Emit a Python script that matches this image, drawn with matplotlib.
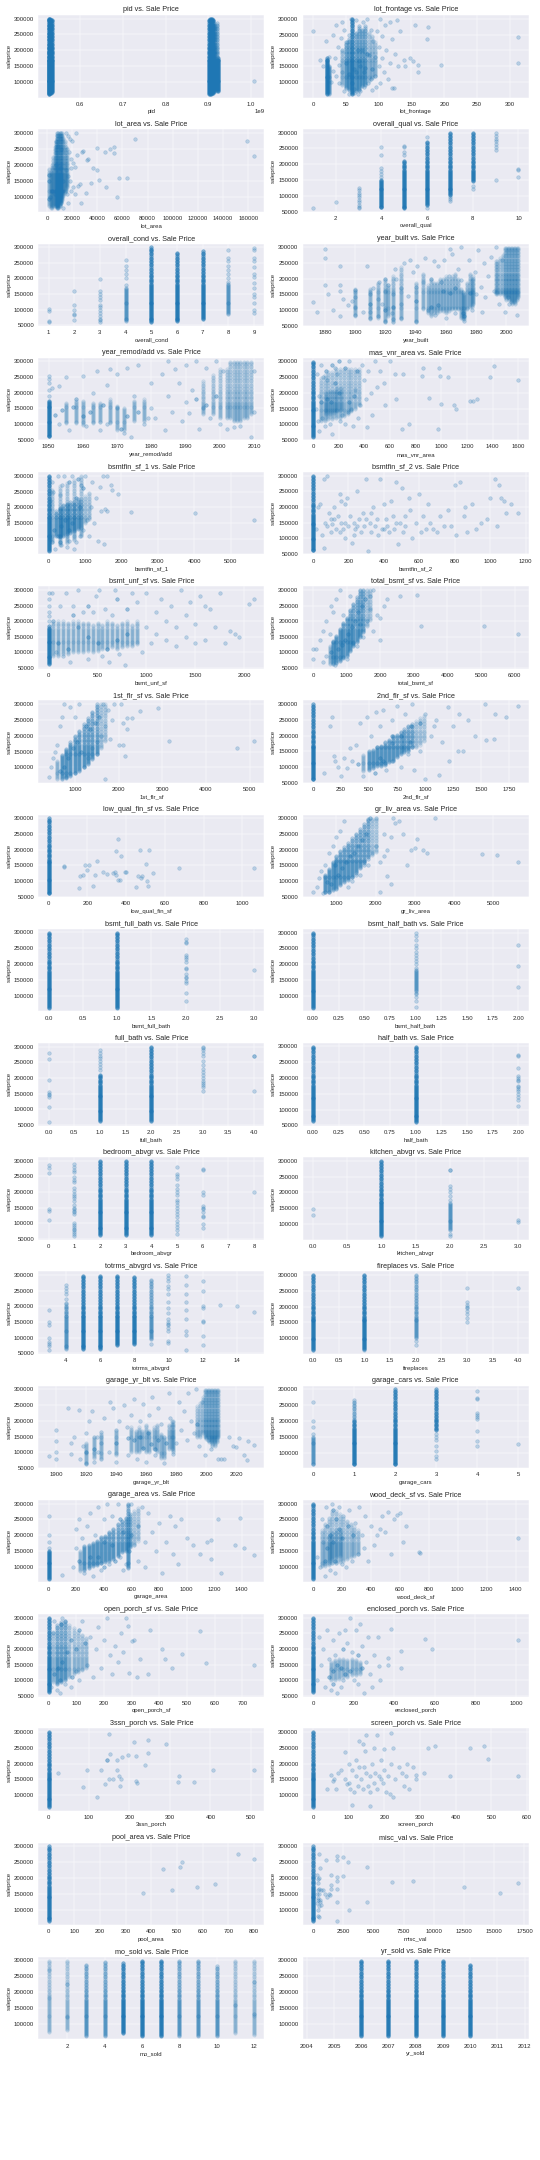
import matplotlib
matplotlib.use("Agg")
import matplotlib.pyplot as plt
import seaborn as sns

sns.set_style("darkgrid")
plt.rcParams['font.family'] = ['Liberation Sans', 'DejaVu Sans']

# ---------------- data (sale prices in thousands of dollars) ----------------
columns = ["pid", "lot_frontage", "lot_area", "overall_qual", "overall_cond", "year_built",
           "year_remod/add", "mas_vnr_area", "bsmtfin_sf_1", "bsmtfin_sf_2", "bsmt_unf_sf",
           "total_bsmt_sf", "1st_flr_sf", "2nd_flr_sf", "low_qual_fin_sf", "gr_liv_area",
           "bsmt_full_bath", "bsmt_half_bath", "full_bath", "half_bath", "bedroom_abvgr",
           "kitchen_abvgr", "totrms_abvgrd", "fireplaces", "garage_yr_blt", "garage_cars",
           "garage_area", "wood_deck_sf", "open_porch_sf", "enclosed_porch", "3ssn_porch",
           "screen_porch", "pool_area", "misc_val", "mo_sold", "yr_sold"]

# sale prices seen stacked along the dense vertical columns / dense cloud strips
column_prices = [61, 63, 66, 69, 72, 75, 78, 81, 84, 87, 90, 93, 96, 99, 102, 105, 108, 111,
                 114, 117, 120, 123, 126, 129, 132, 135, 138, 141, 144, 147, 150, 153, 156,
                 159, 162, 165, 168, 171, 175, 179, 183, 187, 191, 195, 199, 203, 207, 211,
                 216, 221, 226, 231, 236, 241, 246, 251, 256, 261, 266, 271, 276, 281, 286,
                 291, 295, 299]

# dense strips: (x, lowest price, highest price, density 1..3)
pid_cols = [(526.5e6, 62, 300, 3), (528e6, 62, 300, 3), (530e6, 64, 300, 3), (532e6, 66, 298, 3),
            (534.5e6, 68, 296, 3), (902e6, 62, 298, 3), (904.5e6, 62, 300, 3), (907e6, 62, 300, 3),
            (909e6, 64, 300, 3), (911e6, 66, 296, 3), (914e6, 70, 290, 2), (916e6, 72, 280, 2),
            (920e6, 72, 290, 2), (923e6, 72, 175, 3)]
pid_pts = [(1007e6, 103)]

lot_frontage_cols = [(21, 62, 175, 3), (24, 62, 150, 2), (45, 90, 200, 1), (50, 80, 230, 2),
                     (55, 75, 240, 2), (60, 62, 300, 3), (65, 70, 260, 2), (70, 75, 280, 2),
                     (75, 85, 270, 2), (80, 90, 280, 2), (85, 100, 260, 1), (90, 110, 250, 1),
                     (95, 120, 230, 1)]
lot_frontage_core = [(60, 95), (65, 130), (70, 165), (75, 200), (80, 145), (85, 185), (90, 140),
                     (55, 125), (50, 160), (62, 140), (68, 200), (72, 150), (77, 130), (82, 190)]
lot_frontage_pts = [(0, 262), (10, 170), (15, 150), (20, 230), (25, 180), (28, 100), (30, 135),
                    (30, 250), (33, 175), (35, 120), (35, 280), (38, 210), (40, 95), (40, 155),
                    (42, 240), (44, 290), (45, 130), (45, 200), (48, 70), (48, 265), (52, 225),
                    (55, 62), (55, 250), (58, 300), (62, 65), (63, 78), (66, 295), (68, 62),
                    (72, 72), (76, 290), (78, 85), (82, 300), (84, 95), (88, 110), (88, 265),
                    (92, 230), (95, 120), (95, 180), (98, 260), (100, 150), (100, 210), (102, 95),
                    (105, 175), (105, 245), (108, 130), (110, 280), (112, 200), (115, 110),
                    (118, 160), (120, 80), (120, 235), (123, 80), (125, 190), (128, 295),
                    (130, 150), (133, 260), (138, 170), (140, 150), (148, 175), (152, 165),
                    (155, 280), (160, 155), (160, 130), (174, 235), (175, 275), (195, 155),
                    (313, 160), (313, 243), (102, 300), (118, 290), (90, 75), (96, 85)]

lot_area_cols = [(2000, 70, 190, 1), (3000, 65, 180, 1), (4000, 65, 200, 1), (5000, 70, 230, 1),
                 (6000, 70, 260, 1), (7000, 70, 280, 2), (8000, 65, 300, 2), (9000, 65, 300, 2),
                 (10000, 70, 300, 2), (11000, 80, 300, 2), (12000, 90, 300, 1), (13000, 100, 290, 1),
                 (14000, 110, 280, 1), (15000, 120, 260, 1), (16000, 130, 240, 1)]
lot_area_core = [(2500, 100), (4000, 120), (6000, 110), (7000, 200), (8500, 120), (9000, 260),
                 (10000, 190), (11500, 250), (13000, 150), (1500, 170), (1300, 150), (1500, 95)]
lot_area_pts = [(15500, 185), (16000, 110), (16500, 290), (17000, 80), (17500, 240),
                (18000, 280), (18500, 150), (19000, 190), (19500, 220), (20000, 275),
                (21000, 130), (22000, 110), (22500, 195), (23000, 300), (24000, 230),
                (25000, 135), (26000, 140), (27000, 80), (28000, 240), (29000, 245),
                (31000, 113), (32000, 215), (33000, 220), (35000, 143), (37000, 192),
                (39500, 183), (40000, 252), (41000, 153), (46000, 240), (47000, 130),
                (50000, 250), (53000, 255), (53500, 238), (56000, 101), (57000, 158),
                (64000, 158), (70000, 280), (159000, 275), (164700, 228), (17000, 165),
                (19000, 120), (16000, 250), (21000, 205), (12500, 65), (15000, 300)]

overall_qual_cols = [(4, 62, 150, 3), (5, 60, 215, 3), (6, 72, 275, 3), (7, 100, 300, 3),
                     (8, 145, 300, 3)]
overall_qual_pts = [(1, 61), (2, 81), (3, 62), (3, 65), (3, 70), (3, 80), (3, 88), (3, 95),
                    (3, 103), (3, 110), (3, 118), (3, 124), (4, 160), (4, 170), (4, 180),
                    (4, 188), (4, 228), (4, 255), (5, 230), (5, 240), (5, 255), (5, 258),
                    (6, 62), (6, 285), (7, 82), (7, 90), (7, 95), (8, 120), (8, 130), (9, 150),
                    (9, 245), (9, 255), (9, 265), (9, 275), (9, 280), (9, 290), (9, 298),
                    (10, 160), (10, 183), (10, 185)]

overall_cond_cols = [(4, 62, 170, 2), (5, 60, 300, 3), (6, 62, 285, 3), (7, 72, 290, 3),
                     (8, 85, 190, 2)]
overall_cond_pts = [(1, 62), (1, 65), (1, 95), (1, 103), (2, 67), (2, 82), (2, 87), (2, 100),
                    (2, 115), (2, 160), (3, 60), (3, 66), (3, 72), (3, 80), (3, 90), (3, 100),
                    (3, 108), (3, 115), (3, 130), (3, 140), (3, 150), (3, 160), (3, 197),
                    (4, 180), (4, 200), (4, 215), (4, 225), (4, 238), (4, 260), (8, 200),
                    (8, 215), (8, 225), (8, 240), (8, 255), (8, 265), (8, 290), (9, 90), (9, 100),
                    (9, 120), (9, 140), (9, 150), (9, 170), (9, 185), (9, 205), (9, 215),
                    (9, 235), (9, 255), (9, 265), (9, 290), (9, 298)]

year_built_cols = [(1900, 80, 170, 1), (1910, 70, 170, 1), (1915, 75, 190, 1), (1920, 60, 200, 1),
                   (1922, 80, 180, 1), (1925, 60, 210, 1), (1930, 70, 240, 1), (1940, 60, 190, 1),
                   (1945, 100, 220, 1), (1948, 90, 180, 1), (1950, 80, 200, 1), (1952, 90, 190, 1),
                   (1954, 90, 190, 1), (1956, 95, 200, 1), (1958, 95, 200, 1), (1960, 90, 210, 1),
                   (1962, 95, 200, 1), (1964, 100, 210, 1), (1966, 100, 220, 1), (1968, 100, 200, 1),
                   (1970, 75, 170, 1), (1971, 70, 160, 1), (1972, 70, 150, 1), (1974, 100, 190, 1),
                   (1976, 110, 220, 1), (1977, 110, 200, 1), (1978, 120, 210, 1), (1993, 150, 260, 1),
                   (1994, 150, 260, 1), (1996, 150, 270, 1), (1998, 150, 280, 1), (1999, 140, 300, 1),
                   (2000, 130, 300, 1), (2001, 140, 300, 1), (2002, 130, 300, 1), (2003, 125, 300, 1),
                   (2004, 120, 300, 1), (2005, 125, 300, 1), (2006, 120, 300, 1), (2007, 130, 300, 1),
                   (2008, 140, 300, 1)]
year_built_core = [(1950, 110), (1955, 115), (1958, 160), (1963, 155), (1966, 170), (1971, 90),
                   (1972, 80), (1976, 155), (1920, 100), (1925, 110), (1910, 120), (1940, 130)]
year_built_pts = [(1872, 125), (1875, 95), (1880, 180), (1880, 265), (1880, 293), (1882, 150),
                  (1885, 100), (1890, 240), (1890, 180), (1890, 160), (1890, 80), (1892, 135),
                  (1895, 115), (1898, 130), (1900, 85), (1900, 110), (1900, 140), (1900, 165),
                  (1905, 95), (1908, 240), (1910, 75), (1910, 95), (1910, 150), (1912, 170),
                  (1915, 80), (1915, 135), (1916, 190), (1918, 120), (1920, 65), (1920, 160),
                  (1920, 200), (1922, 180), (1924, 90), (1925, 70), (1925, 150), (1926, 230),
                  (1927, 200), (1930, 75), (1930, 120), (1930, 170), (1932, 250), (1935, 145),
                  (1936, 260), (1938, 220), (1940, 65), (1940, 175), (1941, 240), (1945, 190),
                  (1946, 265), (1948, 100), (1950, 200), (1952, 255), (1953, 85), (1955, 240),
                  (1957, 190), (1959, 260), (1960, 75), (1962, 210), (1964, 280), (1966, 90),
                  (1968, 230), (1970, 195), (1972, 65), (1975, 260), (1977, 100), (1979, 220),
                  (1980, 150), (1981, 290), (1983, 175), (1985, 250), (1986, 140), (1988, 210),
                  (1990, 270), (1992, 160), (1993, 300), (1995, 120), (1997, 260), (1999, 95),
                  (2001, 140), (2002, 120), (2007, 83), (1984, 93), (1970, 300), (1963, 295)]

year_remod_cols = [(1950, 60, 175, 3), (1955, 100, 170, 1), (1958, 100, 180, 1), (1960, 95, 175, 1),
                   (1963, 100, 170, 1), (1965, 105, 170, 1), (1968, 100, 180, 1), (1970, 80, 160, 1),
                   (1972, 80, 150, 1), (1975, 110, 175, 1), (1978, 110, 180, 1), (1995, 130, 240, 1),
                   (1998, 130, 260, 1), (2000, 120, 280, 1), (2002, 120, 280, 1), (2003, 120, 300, 1),
                   (2004, 110, 300, 1), (2005, 110, 300, 1), (2006, 110, 300, 1), (2007, 120, 300, 1),
                   (2008, 120, 300, 1), (2009, 130, 300, 1)]
year_remod_core = [(1952, 130), (1954, 145), (1957, 155), (1960, 125), (1962, 140), (1966, 160),
                   (1971, 85), (1973, 125), (1976, 140), (1993, 180), (1996, 160), (1999, 190)]
year_remod_pts = [(1950, 190), (1950, 210), (1950, 230), (1950, 245), (1950, 255), (1951, 215),
                  (1953, 100), (1953, 222), (1955, 250), (1956, 80), (1958, 180), (1960, 255),
                  (1961, 95), (1963, 200), (1964, 270), (1965, 80), (1967, 100), (1968, 275),
                  (1970, 150), (1970, 260), (1972, 70), (1973, 280), (1975, 190), (1976, 290),
                  (1978, 100), (1980, 150), (1980, 230), (1981, 120), (1983, 260), (1984, 80),
                  (1985, 190), (1986, 140), (1987, 275), (1988, 230), (1989, 110), (1990, 170),
                  (1990, 290), (1991, 135), (1992, 210), (1993, 300), (1994, 85), (1995, 150),
                  (1996, 280), (1997, 120), (1999, 300), (2000, 100), (2001, 270), (2002, 85),
                  (2004, 90), (2006, 95), (2009, 60), (2010, 140), (2010, 270), (1979, 120),
                  (1974, 60), (1967, 225), (1985, 300)]

mas_vnr_cols = [(0, 60, 300, 3), (60, 110, 250, 1), (90, 110, 260, 1), (120, 115, 270, 1),
                (150, 115, 270, 1), (180, 120, 280, 1), (210, 120, 280, 1), (240, 125, 280, 1),
                (270, 130, 280, 1), (300, 140, 280, 1), (330, 150, 280, 1), (360, 160, 280, 1),
                (100, 130, 200, 1), (130, 130, 210, 1), (160, 135, 210, 1), (190, 140, 220, 1),
                (220, 145, 220, 1)]
mas_vnr_core = [(60, 170), (110, 180), (140, 170), (170, 230), (200, 200), (250, 280),
                (280, 170), (320, 190), (340, 270), (100, 270), (150, 290), (200, 300)]
mas_vnr_pts = [(20, 150), (30, 260), (40, 110), (45, 190), (50, 80), (60, 290), (70, 120),
               (75, 250), (90, 95), (110, 240), (130, 100), (150, 70), (170, 280), (190, 260),
               (210, 110), (230, 130), (250, 100), (270, 140), (280, 300), (300, 150),
               (310, 95), (330, 210), (350, 120), (370, 160), (380, 290), (400, 240),
               (410, 180), (420, 90), (430, 270), (450, 200), (460, 130), (480, 300),
               (500, 220), (520, 270), (550, 230), (560, 160), (600, 300), (640, 260),
               (650, 180), (690, 85), (700, 260), (750, 100), (850, 255), (860, 280),
               (900, 185), (970, 85), (980, 280), (990, 255), (1000, 165), (1050, 250),
               (1100, 160), (1110, 150), (1220, 175), (1250, 175), (1280, 180), (1380, 250),
               (1410, 285), (1600, 240)]

bsmtfin1_cols = [(0, 62, 300, 3), (200, 110, 190, 2), (300, 105, 200, 2), (400, 110, 210, 2),
                 (500, 115, 215, 2), (600, 120, 220, 2), (700, 125, 220, 2), (800, 130, 230, 2),
                 (900, 135, 230, 1), (1000, 150, 240, 1), (1100, 160, 250, 1), (100, 90, 260, 1),
                 (300, 80, 270, 1), (500, 85, 280, 1), (700, 95, 290, 1), (900, 110, 300, 1)]
bsmtfin1_core = [(150, 130), (250, 110), (350, 140), (450, 160), (550, 130), (650, 150),
                 (750, 230), (850, 200), (950, 260), (300, 90), (550, 280), (800, 290)]
bsmtfin1_pts = [(30, 100), (50, 220), (80, 280), (100, 90), (120, 250), (180, 70), (250, 300),
                (300, 240), (350, 80), (380, 270), (420, 300), (500, 75), (550, 95), (650, 300),
                (700, 70), (750, 90), (850, 110), (900, 270), (950, 130), (1000, 300),
                (1050, 160), (1100, 110), (1150, 200), (1200, 280), (1250, 150), (1300, 230),
                (1350, 95), (1400, 265), (1450, 190), (1500, 300), (1530, 85), (1560, 195),
                (1600, 300), (1600, 190), (1700, 270), (1750, 255), (1900, 243), (2260, 185),
                (4010, 183), (5640, 160)]

bsmtfin2_cols = [(0, 60, 300, 3)]
bsmtfin2_pts = [(20, 130), (30, 200), (40, 210), (50, 110), (60, 70), (60, 290), (70, 150),
                (80, 300), (80, 140), (90, 180), (100, 120), (100, 160), (110, 145), (120, 200),
                (130, 130), (140, 170), (150, 120), (150, 240), (160, 150), (170, 130),
                (180, 210), (180, 100), (190, 230), (200, 140), (210, 170), (220, 85),
                (230, 110), (240, 130), (250, 250), (260, 160), (270, 120), (280, 180),
                (290, 140), (300, 290), (310, 60), (320, 150), (330, 120), (340, 200),
                (350, 140), (360, 160), (370, 110), (380, 290), (390, 130), (400, 210),
                (410, 160), (420, 140), (430, 120), (440, 220), (450, 170), (460, 130),
                (470, 280), (480, 80), (490, 150), (500, 260), (510, 120), (520, 140),
                (540, 230), (550, 190), (560, 100), (580, 150), (600, 240), (610, 120),
                (620, 170), (640, 130), (650, 210), (660, 150), (680, 130), (700, 120),
                (720, 170), (740, 140), (760, 190), (780, 140), (800, 270), (810, 110),
                (830, 280), (850, 170), (860, 200), (870, 120), (900, 210), (920, 130),
                (950, 150), (980, 160), (1000, 230), (1030, 290), (1040, 140), (1050, 270),
                (1060, 230), (1080, 220), (1090, 180), (1120, 210), (1160, 180), (120, 160),
                (160, 220), (230, 150), (300, 160), (400, 130), (470, 150), (520, 170),
                (330, 180), (250, 140), (180, 150)]

bsmt_unf_cols = [(0, 62, 185, 3), (50, 90, 200, 1), (100, 90, 200, 1), (150, 95, 200, 1),
                 (200, 95, 195, 1), (250, 100, 200, 1), (300, 100, 200, 1), (350, 100, 195, 1),
                 (400, 105, 195, 1), (450, 100, 190, 1), (500, 105, 195, 1), (550, 110, 190, 1),
                 (600, 110, 200, 1), (650, 115, 195, 1), (700, 110, 190, 1), (750, 115, 195, 1),
                 (800, 120, 200, 1), (850, 120, 190, 1), (900, 125, 200, 1)]
bsmt_unf_core = [(100, 130), (200, 110), (300, 180), (400, 150), (500, 130), (600, 110),
                 (700, 140), (800, 160), (250, 220), (400, 250), (700, 270), (800, 240)]
bsmt_unf_pts = [(0, 200), (0, 215), (0, 230), (0, 250), (0, 270), (0, 290), (30, 290),
                (50, 200), (80, 100), (120, 250), (180, 290), (220, 70), (300, 300), (350, 230),
                (400, 80), (480, 280), (520, 300), (580, 240), (620, 70), (680, 300), (720, 95),
                (780, 60), (850, 290), (900, 260), (950, 100), (1000, 180), (1000, 290),
                (1050, 130), (1100, 230), (1100, 160), (1150, 270), (1200, 140), (1200, 200),
                (1250, 250), (1300, 180), (1300, 120), (1350, 300), (1400, 150), (1400, 220),
                (1450, 260), (1500, 130), (1500, 190), (1550, 280), (1600, 140), (1650, 240),
                (1700, 180), (1750, 290), (1800, 130), (1850, 170), (1900, 160), (1950, 150),
                (2050, 255), (2100, 270), (1600, 250), (150, 90), (550, 90), (450, 230),
                (650, 220), (250, 250)]

total_bsmt_cols = [(500, 62, 120, 1), (600, 62, 140, 2), (700, 65, 155, 2), (800, 70, 175, 2),
                   (900, 80, 195, 2), (1000, 90, 215, 2), (1100, 105, 240, 2), (1200, 120, 260, 2),
                   (1300, 135, 280, 2), (1400, 150, 300, 2), (1500, 165, 300, 2), (1600, 180, 300, 1),
                   (1700, 200, 300, 1)]
total_bsmt_core = [(550, 100), (750, 110), (850, 125), (950, 140), (1050, 160), (1150, 180),
                   (1250, 200), (1350, 230), (1450, 250), (1550, 270)]
total_bsmt_pts = [(0, 80), (0, 110), (100, 110), (200, 140), (300, 70), (300, 170), (400, 90),
                  (400, 200), (500, 160), (550, 250), (600, 230), (650, 60), (700, 270),
                  (800, 300), (900, 220), (1000, 80), (1100, 280), (1200, 130), (1300, 120),
                  (1400, 190), (1500, 150), (1600, 200), (1700, 240), (1700, 280), (1800, 300),
                  (1800, 170), (1900, 220), (2000, 140), (2000, 210), (2100, 250), (2200, 270),
                  (2600, 280), (3100, 283), (3200, 185), (5100, 183), (6110, 160)]

first_flr_cols = [(600, 62, 120, 1), (700, 62, 140, 2), (800, 65, 160, 2), (900, 70, 180, 2),
                  (1000, 80, 200, 2), (1100, 90, 220, 2), (1200, 100, 240, 2), (1300, 110, 260, 2),
                  (1400, 125, 280, 2), (1500, 140, 300, 2), (1600, 160, 300, 1), (1700, 180, 300, 1)]
first_flr_core = [(650, 90), (750, 100), (850, 130), (950, 160), (1050, 180), (1150, 150),
                  (1250, 230), (1350, 220), (1450, 240), (1550, 260)]
first_flr_pts = [(400, 70), (450, 100), (500, 130), (550, 150), (600, 170), (650, 230),
                 (700, 260), (750, 300), (800, 70), (900, 290), (1000, 260), (1100, 300),
                 (1200, 100), (1300, 130), (1400, 160), (1500, 180), (1600, 200), (1650, 300),
                 (1700, 65), (1700, 230), (1750, 280), (1800, 190), (1850, 250), (1900, 300),
                 (2000, 170), (2050, 300), (2100, 240), (2100, 170), (2150, 135), (2200, 220),
                 (2200, 255), (2300, 255), (2500, 278), (2900, 287), (3150, 185), (4700, 160),
                 (5100, 183)]

second_flr_cols = [(0, 60, 300, 3), (450, 85, 140, 1), (500, 90, 150, 2), (535, 95, 155, 2),
                   (570, 100, 165, 2), (605, 100, 170, 2), (640, 105, 180, 2), (675, 115, 190, 2),
                   (710, 120, 200, 2), (745, 130, 205, 2), (780, 140, 215, 2), (815, 145, 225, 2),
                   (850, 150, 235, 2), (885, 160, 240, 2), (920, 165, 250, 1), (955, 170, 260, 1),
                   (990, 180, 265, 1)]
second_flr_core = [(400, 110), (550, 80), (620, 120), (700, 175), (780, 200), (870, 230),
                   (950, 240), (600, 130), (700, 200), (860, 180)]
second_flr_pts = [(100, 80), (150, 230), (170, 260), (190, 135), (200, 120), (220, 100),
                  (250, 70), (280, 130), (300, 95), (330, 160), (350, 120), (380, 170),
                  (420, 240), (450, 70), (480, 260), (520, 200), (560, 275), (600, 230),
                  (620, 280), (650, 90), (700, 120), (700, 250), (750, 295), (780, 100),
                  (820, 270), (850, 140), (880, 300), (900, 90), (950, 150), (1000, 62),
                  (1000, 270), (1050, 200), (1080, 230), (1100, 250), (1120, 75), (1150, 180),
                  (1200, 290), (1210, 120), (1250, 230), (1290, 150), (1300, 270), (1340, 150),
                  (1380, 250), (1440, 200), (1530, 300), (1540, 185), (1610, 188), (1620, 270),
                  (1720, 260), (1830, 293)]

low_qual_cols = [(0, 60, 300, 3)]
low_qual_pts = [(80, 145), (80, 148), (155, 78), (160, 115), (180, 120), (190, 150), (200, 135),
                (210, 150), (230, 83), (240, 120), (250, 165), (280, 130), (300, 122), (330, 125),
                (345, 130), (350, 195), (350, 120), (360, 102), (360, 235), (370, 103),
                (375, 180), (395, 130), (400, 130), (450, 80), (460, 115), (470, 200),
                (475, 110), (480, 115), (500, 155), (510, 100), (515, 83), (520, 200),
                (540, 125), (675, 140), (1060, 142)]

gr_liv_cols = [(700, 62, 120, 2), (800, 62, 140, 2), (900, 70, 160, 2), (1000, 75, 180, 2),
               (1100, 85, 195, 2), (1200, 95, 210, 2), (1300, 100, 225, 2), (1400, 110, 240, 2),
               (1500, 125, 255, 2), (1600, 140, 270, 2), (1700, 155, 285, 2), (1800, 170, 300, 2),
               (1900, 180, 300, 1), (2000, 190, 300, 1)]
gr_liv_core = [(750, 95), (850, 90), (950, 150), (1050, 120), (1150, 140), (1250, 160),
               (1350, 180), (1450, 190), (1550, 210), (1650, 230), (1750, 250), (1850, 300)]
gr_liv_pts = [(400, 65), (500, 80), (550, 110), (600, 130), (650, 60), (700, 150), (800, 190),
              (900, 210), (1000, 240), (1100, 260), (1200, 290), (1300, 80), (1400, 100),
              (1500, 120), (1600, 120), (1700, 150), (1800, 150), (1900, 190), (2000, 210),
              (2000, 300), (2100, 63), (2100, 160), (2200, 180), (2200, 250), (2300, 200),
              (2300, 115), (2400, 240), (2400, 90), (2450, 300), (2500, 285), (2600, 290),
              (2700, 250), (2800, 150), (2900, 200), (3000, 205), (3050, 235), (3200, 200),
              (3300, 190), (3500, 300), (4700, 185), (5100, 183), (5640, 160)]

bsmt_full_bath_cols = [(0, 62, 300, 3), (1, 62, 300, 3)]
bsmt_full_bath_pts = [(2, 85), (2, 110), (2, 140), (2, 148), (2, 155), (2, 160), (2, 170),
                      (2, 185), (2, 188), (2, 205), (2, 215), (2, 222), (2, 230), (2, 265),
                      (2, 270), (2, 278), (3, 180)]

bsmt_half_bath_cols = [(0, 62, 300, 3), (1, 115, 190, 2)]
bsmt_half_bath_pts = [(1, 65), (1, 85), (1, 95), (1, 105), (1, 110), (1, 200), (1, 210),
                      (1, 220), (1, 230), (1, 240), (1, 250), (1, 260), (1, 275), (1, 290),
                      (1, 300), (2, 127), (2, 195), (2, 260)]

full_bath_cols = [(1, 62, 215, 3), (2, 62, 300, 3)]
full_bath_pts = [(0, 60), (0, 108), (0, 140), (0, 145), (0, 150), (0, 155), (0, 195), (0, 260),
                 (0, 280), (1, 225), (1, 235), (1, 245), (1, 255), (1, 265), (1, 272), (1, 280),
                 (1, 290), (3, 158), (3, 170), (3, 178), (3, 185), (3, 190), (3, 200), (3, 210),
                 (3, 218), (3, 228), (3, 242), (3, 255), (3, 270), (3, 280), (3, 290), (3, 295),
                 (3, 300), (4, 160), (4, 270), (4, 272)]

half_bath_cols = [(0, 62, 300, 3), (1, 58, 300, 3)]
half_bath_pts = [(2, 110), (2, 130), (2, 140), (2, 150), (2, 160), (2, 165), (2, 170), (2, 175),
                 (2, 190), (2, 195), (2, 200), (2, 205), (2, 232), (2, 270), (2, 272)]

bedroom_cols = [(2, 62, 300, 3), (3, 62, 300, 3), (4, 62, 300, 3)]
bedroom_pts = [(0, 110), (0, 140), (0, 145), (0, 260), (0, 278), (0, 285), (1, 60), (1, 65),
               (1, 72), (1, 78), (1, 82), (1, 88), (1, 95), (1, 100), (1, 130), (1, 135),
               (1, 140), (1, 145), (1, 150), (1, 160), (1, 170), (1, 180), (1, 188), (1, 195),
               (1, 205), (1, 212), (1, 232), (1, 240), (1, 248), (1, 265), (1, 270), (1, 280),
               (1, 290), (5, 65), (5, 78), (5, 88), (5, 98), (5, 108), (5, 120), (5, 130),
               (5, 140), (5, 150), (5, 160), (5, 168), (5, 175), (5, 190), (5, 200), (5, 210),
               (5, 222), (5, 242), (5, 250), (5, 258), (5, 280), (6, 85), (6, 97), (6, 120),
               (6, 125), (6, 135), (6, 145), (6, 150), (6, 157), (6, 190), (6, 200), (6, 270),
               (6, 272), (8, 200)]

kitchen_cols = [(1, 62, 300, 3), (2, 80, 165, 2)]
kitchen_pts = [(0, 127), (0, 148), (2, 62), (2, 70), (2, 175), (2, 190), (2, 200), (2, 210),
               (2, 220), (2, 270), (2, 272), (3, 107), (3, 113)]

totrms_cols = [(4, 62, 215, 2), (5, 62, 300, 3), (6, 62, 300, 3), (7, 78, 300, 3),
               (8, 80, 295, 3), (9, 95, 290, 2)]
totrms_pts = [(3, 60), (3, 75), (3, 80), (3, 85), (3, 100), (3, 140), (3, 150), (3, 190),
              (4, 225), (4, 240), (4, 250), (4, 258), (4, 270), (9, 80), (10, 82), (10, 90),
              (10, 120), (10, 130), (10, 140), (10, 145), (10, 150), (10, 160), (10, 180),
              (10, 195), (10, 215), (10, 240), (10, 255), (10, 265), (10, 280), (10, 290),
              (10, 300), (11, 62), (11, 108), (11, 122), (11, 160), (11, 190), (11, 215),
              (11, 240), (11, 270), (11, 298), (12, 78), (12, 105), (12, 150), (12, 155),
              (12, 195), (12, 200), (12, 250), (12, 280), (13, 205), (14, 200), (15, 183)]

fireplaces_cols = [(0, 62, 300, 3), (1, 65, 300, 3), (2, 100, 300, 2)]
fireplaces_pts = [(1, 62), (2, 80), (2, 90), (3, 150), (3, 165), (3, 175), (3, 185), (3, 195),
                  (3, 200), (3, 205), (3, 215), (3, 258), (4, 260)]

garage_yr_cols = [(1920, 60, 130, 1), (1925, 80, 150, 1), (1930, 80, 160, 1), (1940, 90, 170, 1),
                  (1950, 100, 180, 1), (1953, 100, 170, 1), (1955, 100, 180, 1), (1957, 110, 170, 1),
                  (1960, 100, 190, 1), (1962, 100, 170, 1), (1965, 110, 180, 1), (1967, 100, 190, 1),
                  (1970, 80, 160, 1), (1972, 80, 150, 1), (1975, 110, 190, 1), (1977, 110, 200, 1),
                  (1978, 100, 200, 1), (1994, 150, 250, 1), (1996, 150, 260, 1), (1998, 160, 280, 1),
                  (1999, 150, 300, 1), (2000, 140, 300, 1), (2001, 150, 300, 1), (2002, 130, 300, 1),
                  (2003, 130, 300, 1), (2004, 120, 300, 1), (2005, 130, 300, 1), (2006, 120, 300, 1),
                  (2007, 130, 300, 1), (2008, 150, 300, 1)]
garage_yr_core = [(1952, 140), (1956, 150), (1958, 115), (1961, 160), (1963, 125), (1966, 110),
                  (1968, 140), (1973, 130), (1994, 190), (1920, 100), (1925, 110), (1940, 130),
                  (1948, 145)]
garage_yr_pts = [(1895, 88), (1900, 80), (1900, 100), (1900, 135), (1900, 170), (1908, 240),
                 (1910, 95), (1910, 130), (1912, 150), (1915, 235), (1916, 80), (1918, 120),
                 (1920, 65), (1920, 160), (1922, 200), (1924, 230), (1925, 70), (1927, 150),
                 (1928, 100), (1930, 80), (1930, 130), (1930, 165), (1932, 210), (1935, 100),
                 (1936, 260), (1938, 240), (1940, 70), (1940, 170), (1942, 200), (1945, 250),
                 (1947, 180), (1948, 90), (1950, 220), (1952, 270), (1954, 80), (1956, 200),
                 (1958, 255), (1960, 70), (1962, 220), (1964, 275), (1966, 90), (1968, 240),
                 (1970, 190), (1972, 65), (1975, 290), (1976, 210), (1978, 95), (1980, 130),
                 (1982, 260), (1983, 170), (1985, 230), (1987, 140), (1988, 290), (1990, 200),
                 (1992, 160), (1993, 300), (1995, 120), (1997, 260), (1999, 90), (2001, 140),
                 (2003, 110), (2008, 80), (2010, 80), (2012, 80), (2015, 150), (2018, 120),
                 (2020, 118), (2022, 145), (2025, 90), (2027, 75), (2028, 135), (2032, 122)]

garage_cars_cols = [(0, 62, 150, 2), (1, 62, 200, 3), (1, 200, 268, 2), (2, 62, 300, 3),
                    (3, 170, 300, 3)]
garage_cars_pts = [(0, 160), (0, 180), (0, 200), (0, 260), (3, 80), (3, 90), (3, 105),
                   (3, 120), (3, 140), (3, 150), (3, 160), (4, 122), (4, 138), (4, 168),
                   (4, 205), (4, 212), (4, 220), (4, 225), (4, 270), (4, 272), (4, 293), (5, 126)]

garage_area_cols = [(0, 62, 150, 3), (230, 85, 150, 1), (260, 90, 165, 2), (290, 95, 170, 2),
                    (320, 100, 175, 2), (350, 105, 185, 2), (380, 110, 195, 2), (410, 115, 200, 2),
                    (440, 120, 215, 2), (470, 125, 225, 2), (500, 135, 240, 2), (530, 145, 250, 2),
                    (560, 150, 260, 2), (576, 95, 300, 2), (590, 160, 270, 2), (620, 170, 280, 1),
                    (650, 180, 290, 1)]
garage_area_core = [(220, 120), (300, 130), (400, 180), (460, 170), (520, 250), (580, 150),
                    (600, 200), (650, 230), (480, 120), (400, 100), (360, 130), (540, 210)]
garage_area_pts = [(0, 160), (0, 180), (0, 200), (0, 260), (100, 75), (180, 100), (200, 160),
                   (200, 220), (220, 250), (240, 190), (260, 80), (280, 230), (300, 270),
                   (320, 70), (340, 200), (360, 290), (380, 90), (400, 250), (420, 300),
                   (440, 110), (460, 260), (500, 300), (520, 130), (540, 90), (560, 110),
                   (600, 300), (620, 170), (650, 120), (680, 290), (700, 180), (700, 100),
                   (720, 270), (750, 210), (780, 150), (800, 240), (820, 80), (850, 180),
                   (880, 260), (900, 140), (920, 230), (940, 110), (960, 250), (1000, 190),
                   (1050, 170), (1100, 140), (1150, 180), (1180, 125), (1180, 185), (1230, 250),
                   (1250, 80), (1350, 168), (1390, 255), (1420, 160), (1490, 138)]

wood_deck_cols = [(0, 62, 300, 3), (60, 100, 220, 1), (85, 100, 240, 1), (110, 105, 260, 1),
                  (135, 110, 280, 1), (160, 110, 280, 1), (185, 115, 270, 1), (210, 120, 260, 1),
                  (235, 125, 250, 1), (260, 130, 240, 1), (285, 135, 230, 1), (310, 140, 220, 1),
                  (110, 120, 200, 1), (135, 125, 210, 1), (160, 130, 220, 1), (185, 135, 220, 1)]
wood_deck_core = [(80, 120), (100, 160), (120, 200), (140, 180), (150, 120), (160, 250),
                  (180, 220), (200, 190), (240, 230), (280, 200), (140, 280), (100, 230)]
wood_deck_pts = [(30, 130), (50, 100), (60, 250), (70, 180), (80, 70), (90, 290), (120, 90),
                 (130, 300), (150, 80), (180, 290), (200, 110), (210, 260), (230, 100),
                 (250, 280), (270, 120), (290, 240), (310, 140), (320, 290), (340, 200),
                 (350, 160), (360, 260), (380, 120), (400, 230), (420, 170), (440, 200),
                 (460, 220), (480, 260), (500, 210), (520, 275), (540, 140), (560, 250),
                 (580, 265), (600, 270), (620, 180), (640, 230), (730, 148), (740, 145),
                 (1420, 190)]

open_porch_cols = [(0, 62, 300, 3), (15, 95, 260, 1), (30, 90, 280, 2), (45, 95, 290, 2),
                   (60, 100, 290, 2), (75, 110, 280, 1), (90, 120, 270, 1), (105, 125, 260, 1),
                   (120, 130, 250, 1), (135, 140, 240, 1)]
open_porch_core = [(20, 120), (35, 140), (50, 160), (65, 190), (80, 230), (100, 200),
                   (110, 260), (130, 220), (40, 100), (60, 290), (85, 110), (45, 280)]
open_porch_pts = [(10, 80), (15, 250), (20, 290), (30, 70), (40, 60), (50, 300), (60, 90),
                  (80, 80), (100, 130), (110, 100), (120, 290), (140, 150), (150, 240),
                  (160, 110), (170, 200), (180, 270), (190, 140), (200, 230), (210, 300),
                  (220, 180), (230, 120), (240, 210), (250, 160), (260, 250), (270, 190),
                  (280, 300), (285, 275), (290, 125), (300, 225), (310, 230), (320, 110),
                  (330, 170), (360, 122), (365, 260), (410, 200), (420, 170), (444, 140),
                  (480, 183), (547, 257), (570, 157), (742, 150)]

enclosed_cols = [(0, 62, 300, 3), (90, 100, 160, 1), (110, 100, 165, 1), (130, 105, 170, 1),
                 (150, 110, 170, 1), (170, 110, 165, 1), (190, 115, 170, 1), (210, 115, 165, 1),
                 (230, 120, 160, 1)]
enclosed_core = [(80, 110), (100, 130), (120, 150), (140, 140), (160, 120), (180, 130),
                 (220, 180), (240, 140), (100, 90), (150, 200)]
enclosed_pts = [(20, 100), (30, 240), (40, 150), (50, 200), (60, 80), (70, 260), (80, 170),
                (90, 70), (100, 230), (110, 180), (120, 60), (130, 250), (140, 80), (150, 100),
                (160, 260), (170, 220), (180, 300), (190, 190), (200, 100), (210, 260),
                (220, 90), (230, 280), (240, 210), (250, 60), (260, 160), (270, 240), (280, 120),
                (290, 78), (300, 180), (320, 240), (325, 145), (330, 100), (370, 150),
                (372, 172), (386, 265), (432, 140), (432, 195), (552, 233), (588, 200),
                (1012, 228)]

ssn_cols = [(0, 62, 300, 3)]
ssn_pts = [(23, 170), (86, 125), (96, 180), (120, 95), (130, 180), (140, 135), (144, 212),
           (145, 210), (150, 150), (150, 293), (153, 230), (160, 150), (168, 212), (168, 180),
           (175, 160), (176, 130), (180, 150), (182, 222), (196, 228), (210, 268), (216, 224),
           (216, 145), (219, 140), (238, 195), (245, 232), (245, 275), (290, 263), (320, 142),
           (323, 160), (360, 141), (407, 181), (508, 181)]

screen_cols = [(0, 62, 300, 3)]
screen_pts = [(40, 120), (50, 165), (55, 145), (60, 150), (65, 120), (70, 170), (80, 180),
              (90, 150), (90, 235), (95, 135), (100, 140), (100, 200), (105, 120), (110, 180),
              (110, 70), (115, 110), (120, 160), (120, 210), (125, 130), (130, 270), (130, 190),
              (135, 150), (140, 120), (140, 260), (144, 190), (145, 240), (150, 170), (150, 290),
              (155, 130), (160, 65), (160, 110), (160, 160), (165, 200), (170, 140), (170, 250),
              (175, 170), (180, 120), (180, 290), (185, 160), (190, 150), (190, 210), (195, 140),
              (200, 180), (200, 245), (205, 110), (210, 160), (215, 105), (220, 200), (220, 295),
              (225, 95), (225, 250), (230, 150), (240, 190), (250, 170), (255, 130), (260, 160),
              (265, 200), (270, 120), (280, 190), (288, 165), (290, 150), (310, 170), (322, 250),
              (343, 255), (385, 160), (440, 250), (480, 256), (490, 213), (576, 160)]

pool_cols = [(0, 62, 300, 3)]
pool_pts = [(368, 153), (444, 228), (480, 160), (512, 235), (519, 250), (576, 170), (648, 181),
            (738, 275), (800, 260)]

misc_cols = [(0, 62, 300, 3)]
misc_pts = [(300, 120), (350, 150), (350, 210), (400, 80), (400, 135), (400, 160), (400, 185),
            (450, 100), (450, 195), (450, 130), (500, 78), (500, 110), (500, 150), (500, 165),
            (500, 200), (500, 275), (550, 125), (600, 130), (600, 230), (650, 115), (700, 160),
            (800, 160), (1000, 150), (1100, 255), (1200, 140), (1300, 150), (1400, 145),
            (1500, 165), (1500, 178), (1500, 208), (2000, 65), (2000, 123), (2000, 165),
            (2000, 190), (2000, 203), (2000, 255), (2000, 270), (2500, 205), (2500, 265),
            (2900, 250), (3000, 100), (4500, 125), (4500, 235), (6500, 186), (8300, 190),
            (12500, 172), (15500, 152), (17000, 183)]

mo_sold_cols = [(1, 75, 300, 1), (2, 80, 300, 1), (3, 62, 290, 2), (4, 62, 295, 2),
                (5, 70, 292, 3), (6, 62, 300, 3), (7, 62, 300, 3), (8, 62, 300, 2),
                (9, 62, 300, 2), (10, 62, 285, 2), (11, 70, 300, 1), (12, 65, 300, 1)]
mo_sold_pts = [(1, 180), (1, 270), (2, 120), (2, 225), (11, 160), (12, 130), (12, 230)]

yr_sold_cols = [(2006, 62, 300, 3), (2007, 62, 300, 3), (2008, 62, 300, 3),
                (2009, 62, 300, 3), (2010, 62, 290, 3)]
yr_sold_pts = []

panels = {
    "pid": (pid_cols, [], pid_pts),
    "lot_frontage": (lot_frontage_cols, lot_frontage_core, lot_frontage_pts),
    "lot_area": (lot_area_cols, lot_area_core, lot_area_pts),
    "overall_qual": (overall_qual_cols, [], overall_qual_pts),
    "overall_cond": (overall_cond_cols, [], overall_cond_pts),
    "year_built": (year_built_cols, year_built_core, year_built_pts),
    "year_remod/add": (year_remod_cols, year_remod_core, year_remod_pts),
    "mas_vnr_area": (mas_vnr_cols, mas_vnr_core, mas_vnr_pts),
    "bsmtfin_sf_1": (bsmtfin1_cols, bsmtfin1_core, bsmtfin1_pts),
    "bsmtfin_sf_2": (bsmtfin2_cols, [], bsmtfin2_pts),
    "bsmt_unf_sf": (bsmt_unf_cols, bsmt_unf_core, bsmt_unf_pts),
    "total_bsmt_sf": (total_bsmt_cols, total_bsmt_core, total_bsmt_pts),
    "1st_flr_sf": (first_flr_cols, first_flr_core, first_flr_pts),
    "2nd_flr_sf": (second_flr_cols, second_flr_core, second_flr_pts),
    "low_qual_fin_sf": (low_qual_cols, [], low_qual_pts),
    "gr_liv_area": (gr_liv_cols, gr_liv_core, gr_liv_pts),
    "bsmt_full_bath": (bsmt_full_bath_cols, [], bsmt_full_bath_pts),
    "bsmt_half_bath": (bsmt_half_bath_cols, [], bsmt_half_bath_pts),
    "full_bath": (full_bath_cols, [], full_bath_pts),
    "half_bath": (half_bath_cols, [], half_bath_pts),
    "bedroom_abvgr": (bedroom_cols, [], bedroom_pts),
    "kitchen_abvgr": (kitchen_cols, [], kitchen_pts),
    "totrms_abvgrd": (totrms_cols, [], totrms_pts),
    "fireplaces": (fireplaces_cols, [], fireplaces_pts),
    "garage_yr_blt": (garage_yr_cols, garage_yr_core, garage_yr_pts),
    "garage_cars": (garage_cars_cols, [], garage_cars_pts),
    "garage_area": (garage_area_cols, garage_area_core, garage_area_pts),
    "wood_deck_sf": (wood_deck_cols, wood_deck_core, wood_deck_pts),
    "open_porch_sf": (open_porch_cols, open_porch_core, open_porch_pts),
    "enclosed_porch": (enclosed_cols, enclosed_core, enclosed_pts),
    "3ssn_porch": (ssn_cols, [], ssn_pts),
    "screen_porch": (screen_cols, [], screen_pts),
    "pool_area": (pool_cols, [], pool_pts),
    "misc_val": (misc_cols, [], misc_pts),
    "mo_sold": (mo_sold_cols, [], mo_sold_pts),
    "yr_sold": (yr_sold_cols, [], yr_sold_pts),
}

# ---------------- drawing ----------------
BLUE = "#1f77b4"
PT_ALPHA = 0.25
CORE_ALPHA = 0.4
COL_ALPHA = {1: 0.13, 2: 0.25, 3: 0.5}

fig = plt.figure(figsize=(12.5, 50), dpi=43.2)
for i, col in enumerate(columns):
    ax = plt.subplot(19, 2, i + 1)
    cols, core, pts = panels[col]
    for (x, lo, hi, lvl) in cols:
        ys = [p * 1000 for p in column_prices if lo <= p <= hi]
        ax.scatter([x] * len(ys), ys, color=BLUE, alpha=COL_ALPHA[lvl])
    if core:
        ax.scatter([p[0] for p in core], [p[1] * 1000 for p in core], color=BLUE, alpha=CORE_ALPHA)
    if pts:
        ax.scatter([p[0] for p in pts], [p[1] * 1000 for p in pts], color=BLUE, alpha=PT_ALPHA)
    if col == "yr_sold":
        ax.set_xlim(2003.85, 2012.15)
    ax.set_title(f"{col} vs. Sale Price")
    ax.set_xlabel(col)
    ax.set_ylabel("saleprice")

plt.tight_layout()
fig.savefig("out.png", dpi=43.2)
